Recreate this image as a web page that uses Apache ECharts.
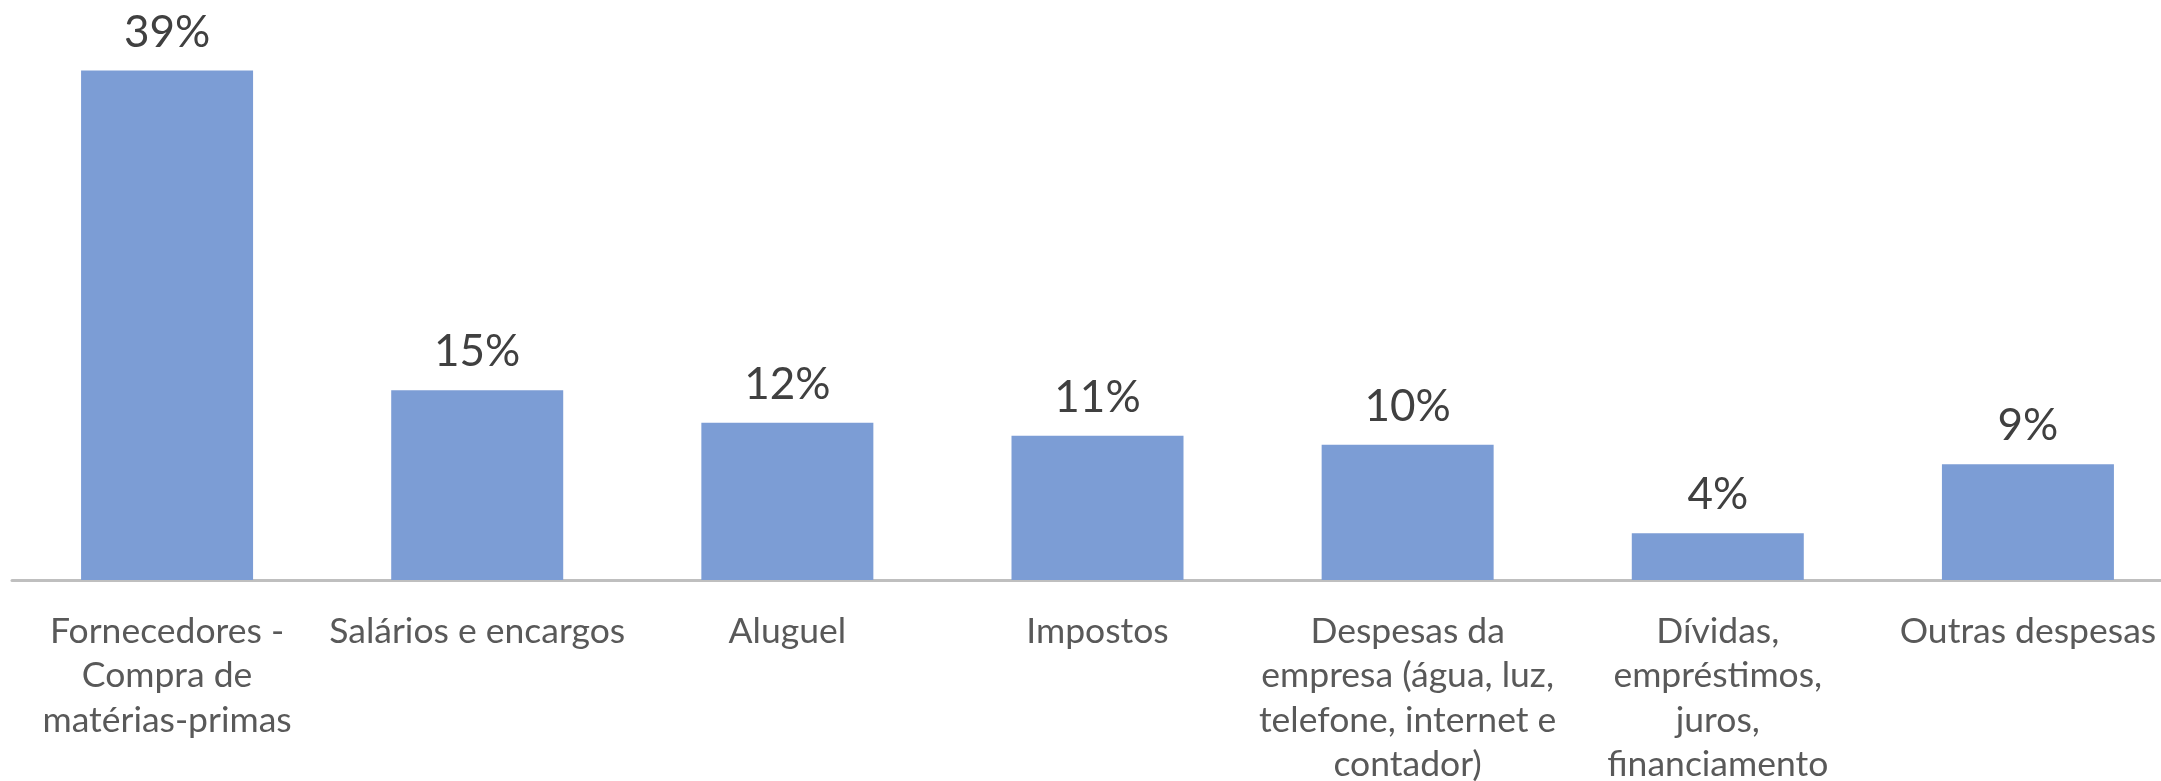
<!DOCTYPE html>
<html>
<head>
<meta charset="utf-8">
<script src="https://cdn.jsdelivr.net/npm/echarts@6/dist/echarts.min.js"></script>
<style>
html,body{margin:0;padding:0;background:#fff;}
#chart{width:2161px;height:781px;}
</style>
</head>
<body>
<div id="chart"></div>
<script>
const categories = [
  'Fornecedores -\nCompra de\nmatérias-primas',
  'Salários e encargos',
  'Aluguel',
  'Impostos',
  'Despesas da\nempresa (água, luz,\ntelefone, internet e\ncontador)',
  'Dívidas,\nempréstimos,\njuros,\nfinanciamento',
  'Outras despesas'
];
const values = [39.2, 14.6, 12.1, 11.1, 10.4, 3.6, 8.9];
const valueLabels = ['39%', '15%', '12%', '11%', '10%', '4%', '9%'];

const chart = echarts.init(document.getElementById('chart'));
chart.setOption({
  animation: false,
  backgroundColor: '#ffffff',
  grid: { left: 12, top: 60, width: 2171, bottom: 201, containLabel: false, outerBoundsMode: 'none' },
  xAxis: {
    type: 'category',
    data: categories,
    axisLine: { show: true, lineStyle: { color: '#bfbfbf', width: 3 } },
    axisTick: { show: false },
    axisLabel: {
      interval: 0,
      margin: 29,
      fontFamily: 'Lato',
      fontSize: 35.5,
      lineHeight: 44.5,
      color: '#595959',
      align: 'center',
      hideOverlap: false
    }
  },
  yAxis: {
    type: 'value',
    min: 0,
    max: 40,
    show: false,
    splitLine: { show: false }
  },
  series: [{
    type: 'bar',
    data: values,
    barWidth: 172,
    itemStyle: { color: '#7c9dd5' },
    label: {
      show: true,
      position: 'top',
      distance: 16,
      fontFamily: 'Lato',
      fontSize: 44,
      color: '#404040',
      formatter: p => valueLabels[p.dataIndex]
    }
  }]
});
</script>
</body>
</html>
